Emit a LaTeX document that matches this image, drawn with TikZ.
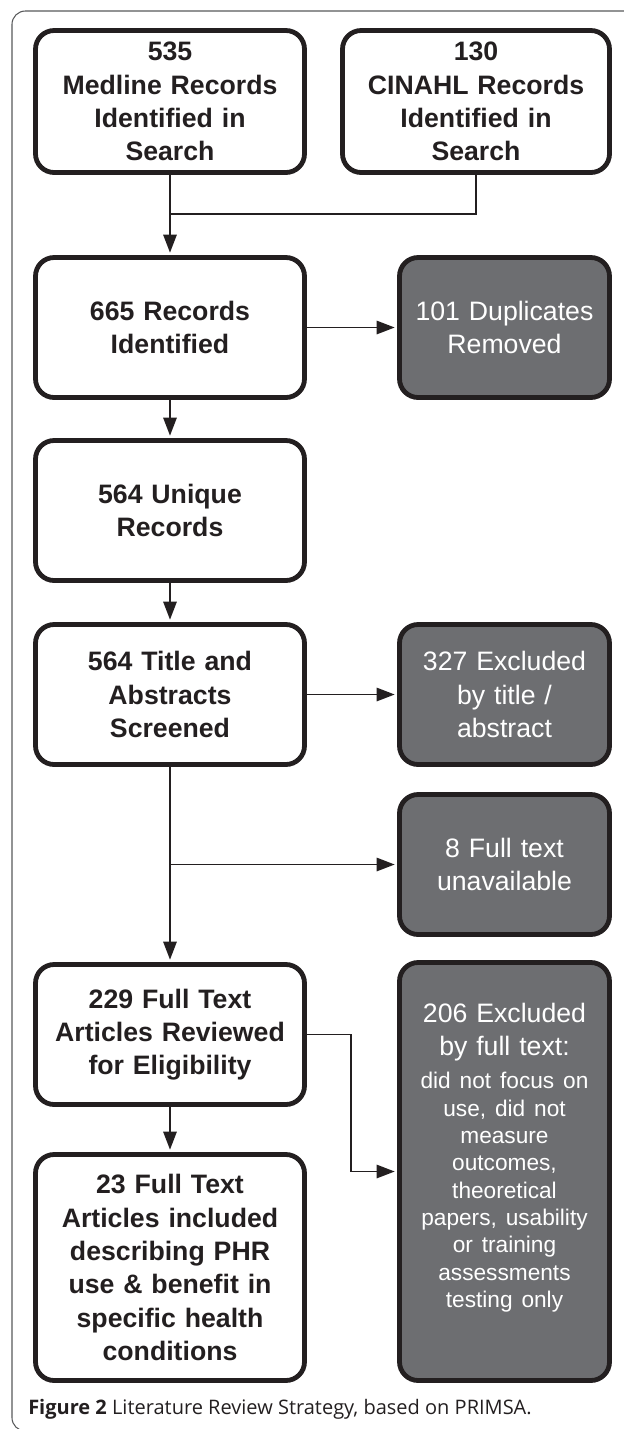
\documentclass[tikz,border=0pt]{standalone}
\usepackage{fontspec}
\setmainfont{Liberation Sans}
\newfontfamily\capfont{Open Sans}
\usetikzlibrary{arrows.meta}

\definecolor{boxline}{HTML}{231F20}
\definecolor{boxgrey}{HTML}{6D6E71}
\definecolor{framegrey}{HTML}{58595B}

\tikzset{
	box/.style={draw=boxline, line width=3.6pt, rounded corners=14pt, inner sep=0pt,
		align=center, text=boxline, font=\bfseries\fontsize{20}{25}\selectfont},
	leftbox/.style={box, minimum width=201.75pt, text width=195pt, minimum height=105pt},
	greybox/.style={box, fill=boxgrey, text=white, font=\fontsize{20}{25}\selectfont,
		minimum width=157.5pt, text width=150pt, minimum height=105pt},
	con/.style={draw=boxline, line width=1.3pt},
	arr/.style={con, -{Triangle[length=13.5pt,width=10pt]}, shorten >=1.8pt},
}

\begin{document}
\begin{tikzpicture}[x=0.75pt,y=-0.75pt]
	\useasboundingbox (0,0) rectangle (624,1429);

	\path
	coordinate (pmed) at (170,101.5)
	coordinate (pcin) at (476,101.5)
	coordinate (prec) at (170,327.5)
	coordinate (pdup) at (504.5,327.5)
	coordinate (puni) at (170,510.5)
	coordinate (pscr) at (170,694.5)
	coordinate (pexc) at (504.5,694.5)
	coordinate (pful) at (504.5,864.5)
	coordinate (prev) at (170,1034.5)
	coordinate (pfin) at (504.5,1171.5)
	coordinate (pinc) at (170,1267.5)
	coordinate (jn) at (170,214)
	coordinate (br) at (170,864.5)
	coordinate (kink) at (351,1034.5)
	;

	% outer frame
	\draw[framegrey, line width=0.8pt, rounded corners=10pt]
		(640,11) -- (12,11) -- (12,1431) -- (80,1431);

	\node[leftbox, minimum height=106.5pt] (med) at (pmed) {535\\Medline Records\\Identified in\\Search};
	\node[box, minimum width=200.25pt, text width=195pt, minimum height=106.5pt] (cin) at (pcin) {130\\CINAHL Records\\Identified in\\Search};
	\node[leftbox] (rec) at (prec) {665 Records\\Identified};
	\node[greybox] (dup) at (pdup) {101 Duplicates\\Removed};
	\node[leftbox] (uni) at (puni) {564 Unique\\Records};
	\node[leftbox] (scr) at (pscr) {564 Title and\\Abstracts\\Screened};
	\node[greybox] (exc) at (pexc) {327 Excluded\\by title /\\abstract};
	\node[greybox] (ful) at (pful) {8 Full text\\unavailable};
	\node[leftbox] (rev) at (prev) {229 Full Text\\Articles Reviewed\\for Eligibility};
	\node[greybox, minimum height=313.5pt] (fin) at (pfin) {206 Excluded\\by full text:\par
		\vspace{4.5pt}\fontsize{17}{20.5}\selectfont did not focus on\\use, did not\\measure\\outcomes,\\theoretical\\papers, usability\\or training\\assessments\\testing only\par
		\vspace{21pt}};
	\node[leftbox, minimum height=169.5pt] (inc) at (pinc) {23 Full Text\\Articles included\\describing PHR\\use \& benefit in\\specific health\\conditions};

	\draw[arr] (med.south) -- (rec.north);
	\draw[con] (cin.south) |- (jn);
	\draw[arr] (rec.east) -- (dup.west);
	\draw[arr] (rec.south) -- (uni.north);
	\draw[arr] (uni.south) -- (scr.north);
	\draw[arr] (scr.east) -- (exc.west);
	\draw[arr] (scr.south) -- (rev.north);
	\draw[arr] (br) -- (ful.west);
	\draw[arr] (rev.east) -- (kink) |- (fin.west);
	\draw[arr] (rev.south) -- (inc.north);

	\node[anchor=base west, inner sep=0pt, text=boxline, font=\capfont\fontsize{15}{18}\selectfont]
		(cap) at (28,1414) {\textbf{Figure 2} Literature Review Strategy, based on PRIMSA.};

\end{tikzpicture}
\end{document}
